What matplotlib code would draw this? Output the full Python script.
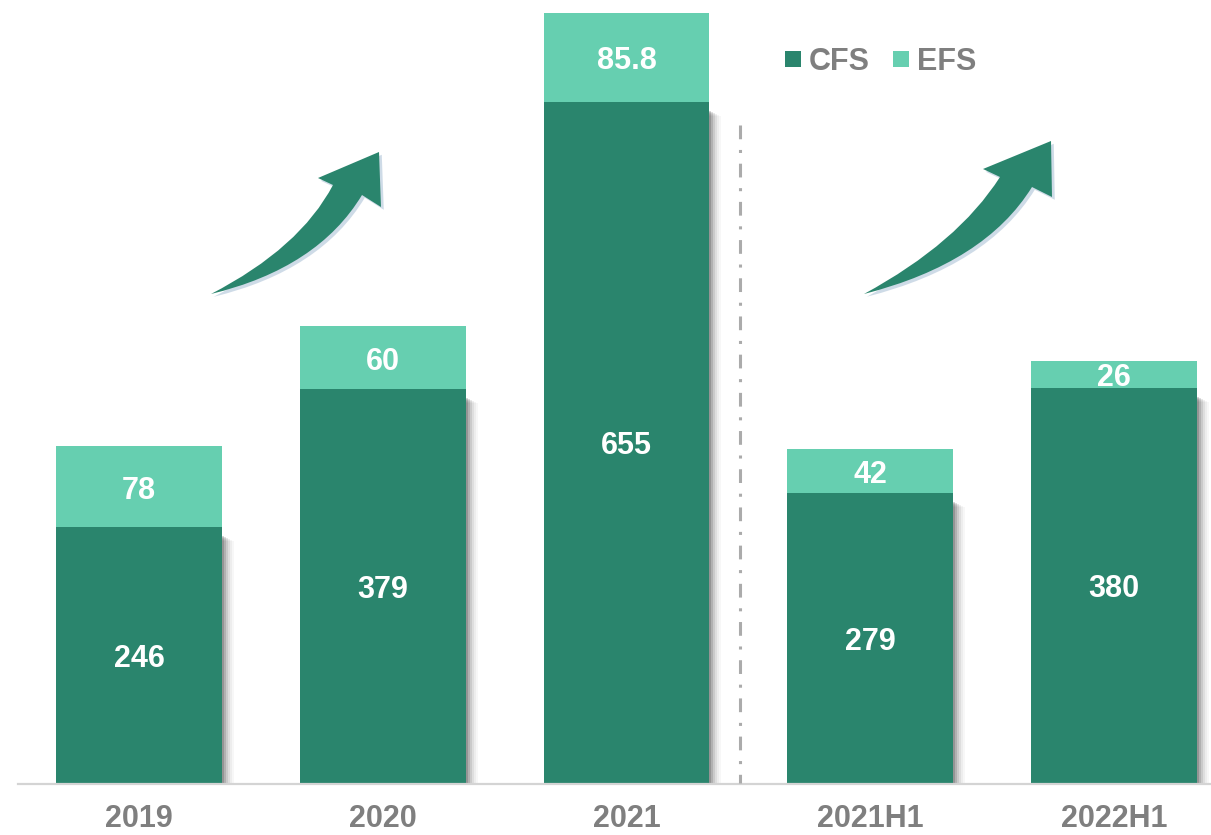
import matplotlib
matplotlib.use("Agg")
import matplotlib.pyplot as plt
from matplotlib.path import Path
from matplotlib.patches import PathPatch, Rectangle
import matplotlib.patheffects as pe
import matplotlib.transforms as mtransforms

categories = ["2019", "2020", "2021", "2021H1", "2022H1"]
cfs = [246, 379, 655, 279, 380]
efs = [78, 60, 85.8, 42, 26]
efs_labels = ["78", "60", "85.8", "42", "26"]
cfs_labels = ["246", "379", "655", "279", "380"]

C_CFS = "#2A856D"
C_EFS = "#66CFB0"
GRAY = "#7F7F7F"

plt.rcParams['font.family'] = ['Liberation Sans', 'DejaVu Sans']

W, H = 1211, 835
fig = plt.figure(figsize=(W / 100, H / 100), dpi=100)
ax = fig.add_axes([0, 52 / H, 1, 783 / H])
ax.set_xlim(-139 / 243.75, (W - 139) / 243.75)
ax.set_ylim(0, 783 / 1.04)
ax.axis("off")

x = list(range(len(categories)))
bw = 0.681

# soft shadows for CFS segments
for i in x:
    for off, a in [(2, 0.16), (4, 0.12), (6, 0.09), (8, 0.06), (10, 0.04), (12, 0.03)]:
        tr = mtransforms.offset_copy(ax.transData, fig=fig, x=off, y=-off / 2, units='dots')
        ax.add_patch(Rectangle((i - bw / 2, 0), bw, cfs[i] - 8, transform=tr,
                               facecolor="black", alpha=a, edgecolor="none", zorder=1))

ax.bar(x, cfs, width=bw, color=C_CFS, zorder=3)
ax.bar(x, efs, width=bw, bottom=cfs, color=C_EFS, zorder=3)

# baseline
fig.add_artist(plt.Line2D([18 / W, 1.0], [1 - 784 / H, 1 - 784 / H], color="#D4D4D4", lw=1.6, zorder=2))

lab_tr = mtransforms.offset_copy(ax.transData, fig=fig, x=0, y=-4, units='dots')
for i in x:
    ax.text(i, cfs[i] / 2, cfs_labels[i], ha="center", va="center", color="white",
            fontsize=22, fontweight="bold", zorder=5, transform=lab_tr)
    ax.text(i, cfs[i] + efs[i] / 2, efs_labels[i], ha="center", va="center", color="white",
            fontsize=22, fontweight="bold", zorder=5, transform=lab_tr)
    fig.text((139 + 243.75 * i) / W, 1 - 827 / H, categories[i], ha="center", va="baseline",
             color=GRAY, fontsize=22, fontweight="bold")

# dash-dot separator
fig.add_artist(plt.Line2D([740 / W, 740 / W], [1 - 125 / H, 1 - 783 / H], color="#ABABAB",
                          lw=2.2, linestyle=(0, (4.5, 3.5, 1, 3.5)), zorder=2))

# legend
for (lx, col, lab, tx) in [(785, C_CFS, "CFS", 809), (893, C_EFS, "EFS", 917)]:
    fig.add_artist(Rectangle((lx / W, 1 - 67 / H), 16 / W, 16 / H, transform=fig.transFigure,
                             facecolor=col, edgecolor="none"))
    fig.text(tx / W, 1 - 62 / H, lab, ha="left", va="center", color=GRAY,
             fontsize=22, fontweight="bold")


def arrow(tail, up_ctrl, up_end, head_l, tip, head_r, lo_start, lo_ctrl):
    def f(p):
        return (p[0], H - p[1])
    verts = [f(tail), f(up_ctrl), f(up_end), f(head_l), f(tip), f(head_r), f(lo_start),
             f(lo_ctrl), f(tail), f(tail)]
    codes = [Path.MOVETO, Path.CURVE3, Path.CURVE3, Path.LINETO, Path.LINETO, Path.LINETO,
             Path.LINETO, Path.CURVE3, Path.CURVE3, Path.CLOSEPOLY]
    p = PathPatch(Path(verts, codes), transform=mtransforms.IdentityTransform(),
                  facecolor=C_CFS, edgecolor="none", zorder=4,
                  path_effects=[pe.SimplePatchShadow(offset=(2, -2), shadow_rgbFace="#9FB8D0", alpha=0.5),
                                pe.Normal()])
    fig.add_artist(p)


arrow((211, 294), (300, 248), (333, 185), (318, 178), (379, 152), (381, 207),
      (362, 195), (318, 268))
arrow((864, 294), (958, 243), (1000, 177), (983, 169), (1051, 141), (1052, 197),
      (1032, 187), (985, 263))

fig.savefig("out.png", dpi=100)
